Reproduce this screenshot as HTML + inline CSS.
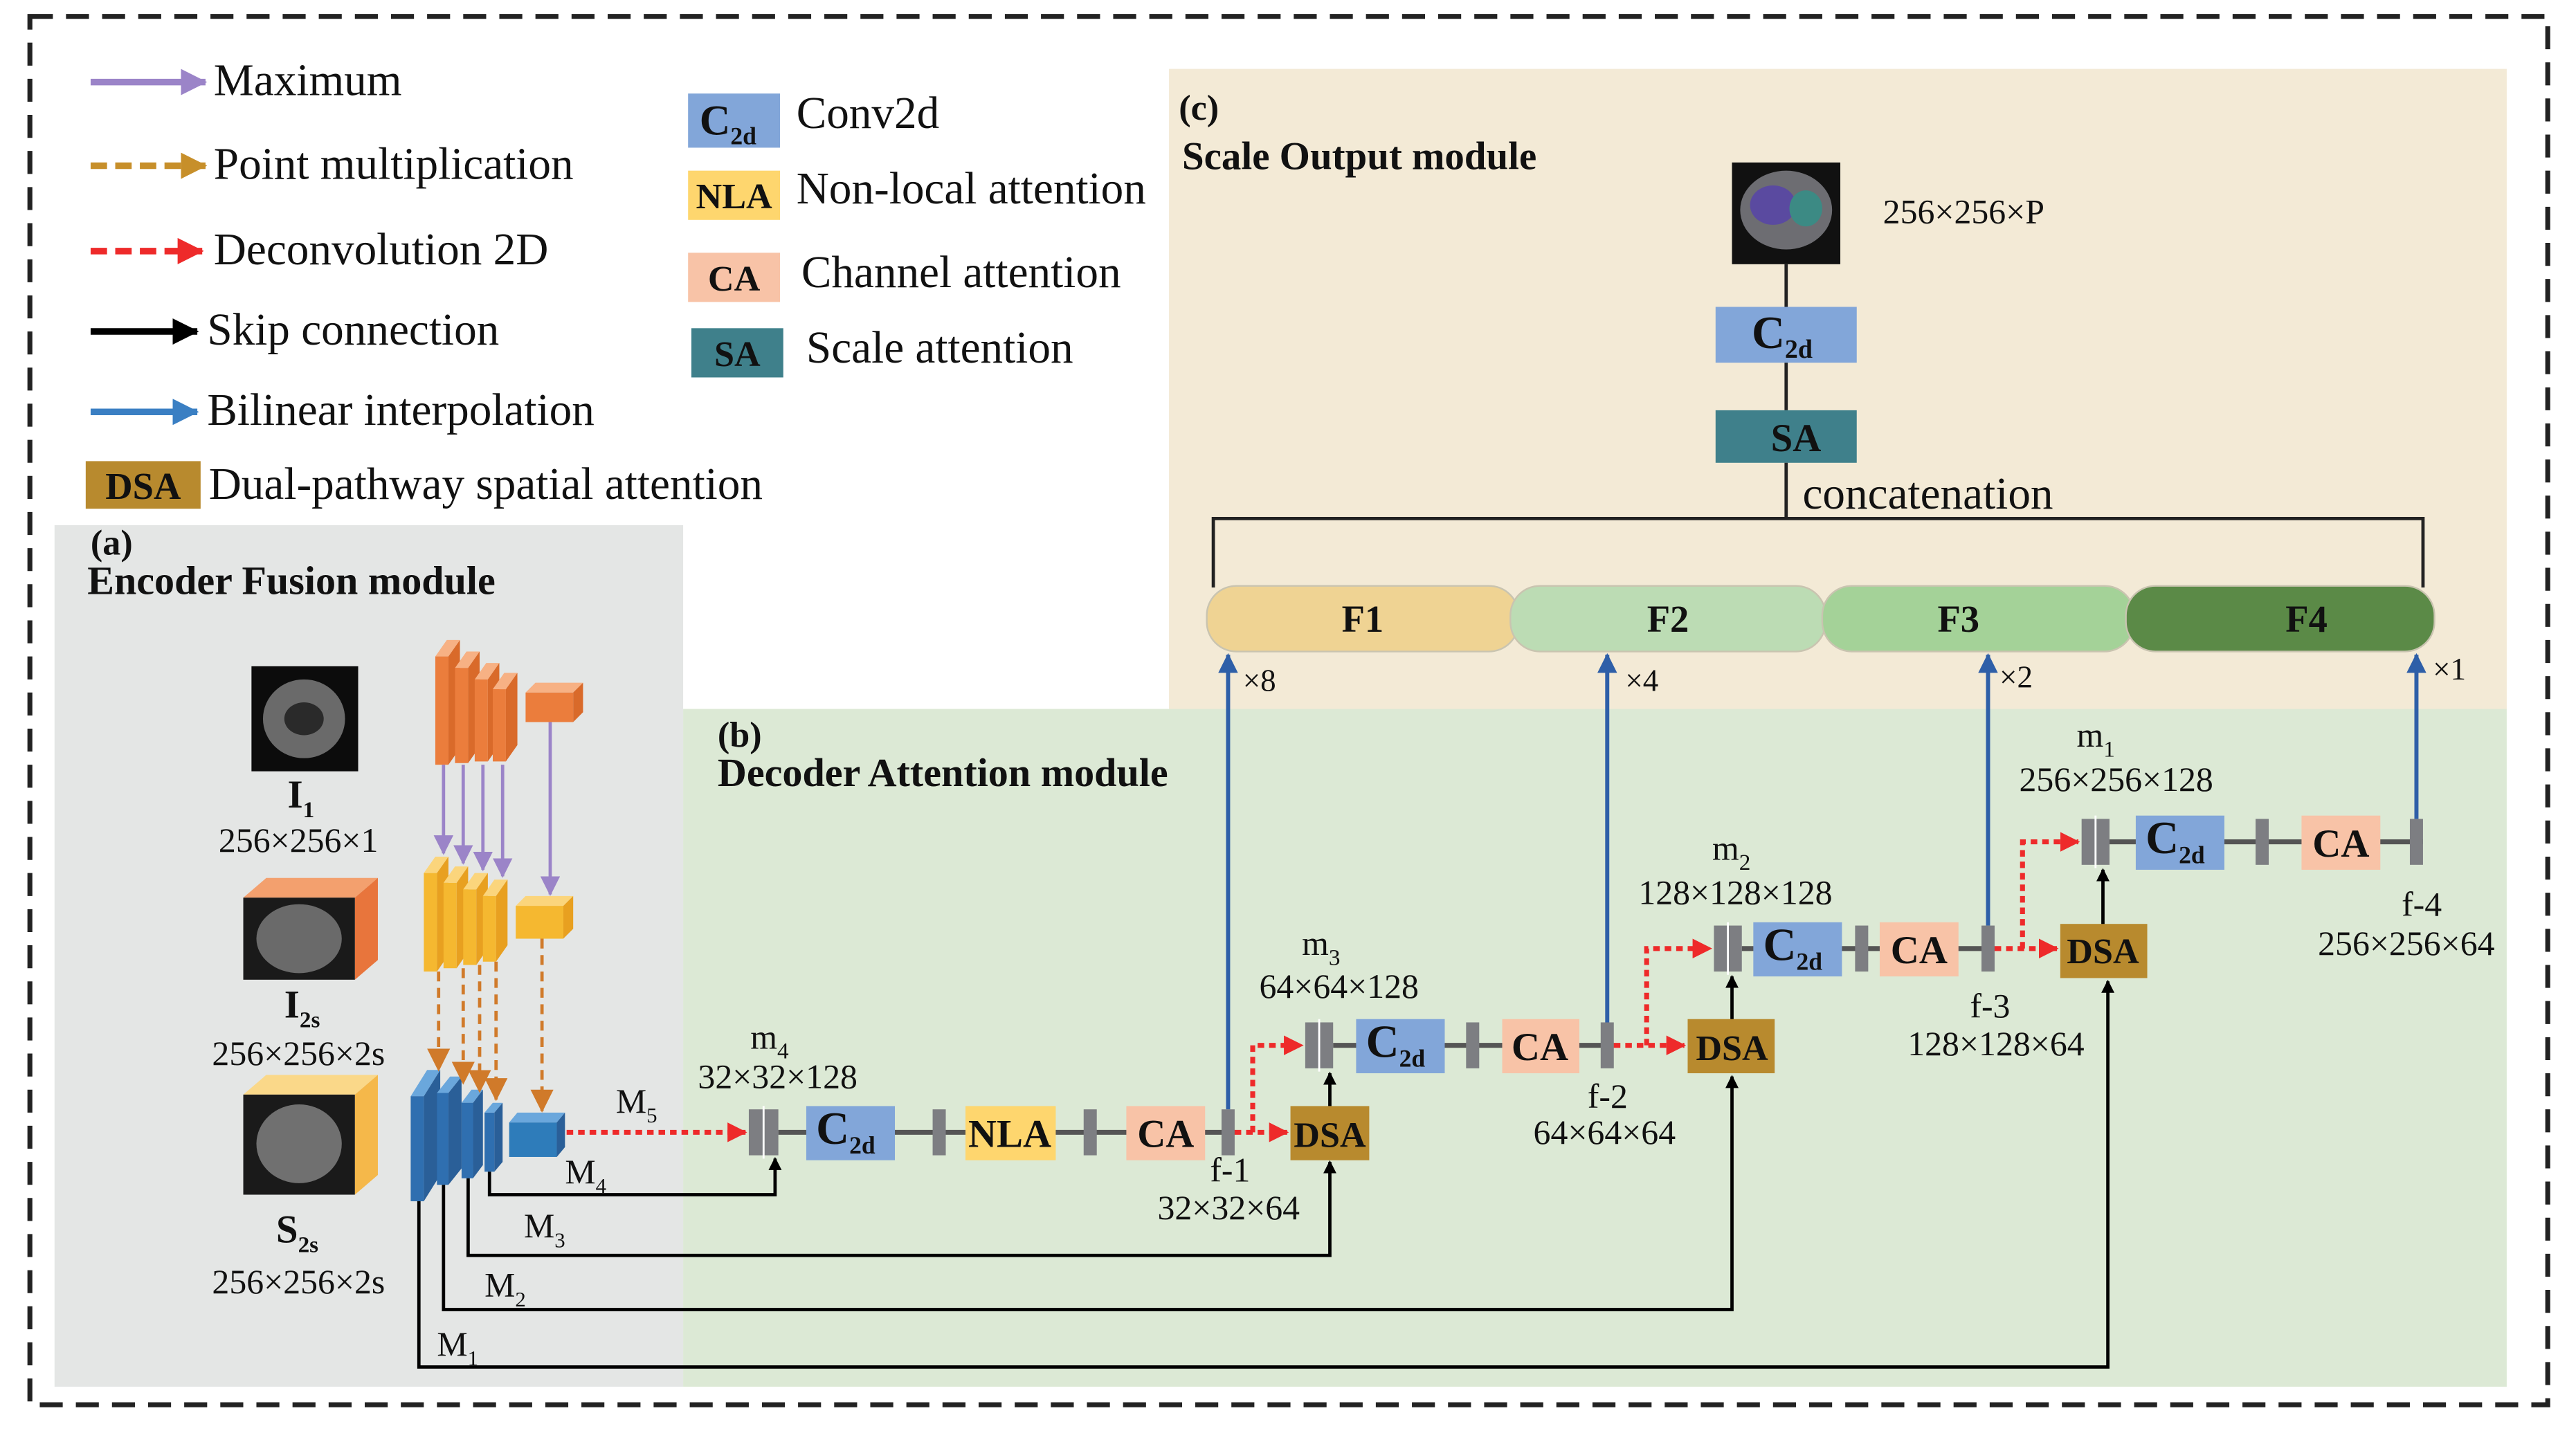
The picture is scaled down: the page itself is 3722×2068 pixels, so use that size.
<!DOCTYPE html>
<html><head><meta charset="utf-8"><style>
html,body{margin:0;padding:0;background:#fff}
svg{display:block}
text{font-family:"Liberation Serif",serif;fill:#111}
.b{font-weight:bold}
</style></head><body>
<svg width="3722" height="2068" viewBox="0 0 1569 872" xmlns="http://www.w3.org/2000/svg">
<defs>
<marker id="ak" markerWidth="8" markerHeight="8" refX="7" refY="4" orient="auto" markerUnits="userSpaceOnUse"><path d="M0,0 L8,4 L0,8 Z" fill="#000"/></marker>
<marker id="ab" markerWidth="12" markerHeight="12" refX="11" refY="6" orient="auto" markerUnits="userSpaceOnUse"><path d="M0,0 L12,6 L0,12 Z" fill="#2e5fa8"/></marker>
<marker id="ar" markerWidth="12" markerHeight="12" refX="11" refY="6" orient="auto" markerUnits="userSpaceOnUse"><path d="M0,0 L12,6 L0,12 Z" fill="#ee2a2a"/></marker>
<marker id="ap" markerWidth="12" markerHeight="12" refX="11" refY="6" orient="auto" markerUnits="userSpaceOnUse"><path d="M0,0 L12,6 L0,12 Z" fill="#9b84c8"/></marker>
<marker id="ao" markerWidth="14" markerHeight="14" refX="13" refY="7" orient="auto" markerUnits="userSpaceOnUse"><path d="M0,0 L14,7 L0,14 Z" fill="#d07a2a"/></marker>
<marker id="alb" markerWidth="16" markerHeight="16" refX="15" refY="8" orient="auto" markerUnits="userSpaceOnUse"><path d="M0,0 L16,8 L0,16 Z" fill="#3a7fc3"/></marker>
<marker id="alk" markerWidth="16" markerHeight="16" refX="15" refY="8" orient="auto" markerUnits="userSpaceOnUse"><path d="M0,0 L16,8 L0,16 Z" fill="#000"/></marker>
<marker id="alp" markerWidth="16" markerHeight="16" refX="15" refY="8" orient="auto" markerUnits="userSpaceOnUse"><path d="M0,0 L16,8 L0,16 Z" fill="#9b84c8"/></marker>
<marker id="alo" markerWidth="16" markerHeight="16" refX="15" refY="8" orient="auto" markerUnits="userSpaceOnUse"><path d="M0,0 L16,8 L0,16 Z" fill="#c78f2a"/></marker>
<marker id="alr" markerWidth="16" markerHeight="16" refX="15" refY="8" orient="auto" markerUnits="userSpaceOnUse"><path d="M0,0 L16,8 L0,16 Z" fill="#ee2a2a"/></marker>
</defs>

<!-- regions -->
<rect x="33" y="320" width="383" height="525" fill="#e4e6e5"/>
<rect x="712" y="42" width="815" height="390" fill="#f3ead6"/>
<rect x="416" y="432" width="1111" height="413" fill="#dce9d5"/>
<rect x="18" y="10" width="1534" height="846" fill="none" stroke="#222" stroke-width="3" stroke-dasharray="14,8"/>

<!-- legend -->
<line x1="55" y1="50" x2="125" y2="50" stroke="#9b84c8" stroke-width="4" marker-end="url(#alp)"/>
<text x="130" y="58" font-size="27.5">Maximum</text>
<line x1="55" y1="101" x2="125" y2="101" stroke="#c78f2a" stroke-width="4" stroke-dasharray="10,5" marker-end="url(#alo)"/>
<text x="130" y="109" font-size="27.5">Point multiplication</text>
<line x1="55" y1="153" x2="123" y2="153" stroke="#ee2a2a" stroke-width="4" stroke-dasharray="10,5" marker-end="url(#alr)"/>
<text x="130" y="161" font-size="27.5">Deconvolution 2D</text>
<line x1="55" y1="202" x2="120" y2="202" stroke="#000" stroke-width="4" marker-end="url(#alk)"/>
<text x="126" y="210" font-size="27.5">Skip connection</text>
<line x1="55" y1="251" x2="120" y2="251" stroke="#3a7fc3" stroke-width="4" marker-end="url(#alb)"/>
<text x="126" y="259" font-size="27.5">Bilinear interpolation</text>
<rect x="52" y="281" width="70" height="29" fill="#b88a2e"/>
<text x="87" y="304" font-size="23" class="b" text-anchor="middle">DSA</text>
<text x="127" y="304" font-size="27.5">Dual-pathway spatial attention</text>

<rect x="419" y="57" width="56" height="33" fill="#82a6d9"/>
<text x="426" y="82" font-size="26" class="b">C<tspan font-size="15" dy="6">2d</tspan></text>
<text x="485" y="78" font-size="27.5">Conv2d</text>
<rect x="419" y="104" width="56" height="30" fill="#fed66e"/>
<text x="447" y="127" font-size="22" class="b" text-anchor="middle">NLA</text>
<text x="485" y="124" font-size="27.5">Non-local attention</text>
<rect x="419" y="154" width="56" height="30" fill="#f8c3a7"/>
<text x="447" y="177" font-size="22" class="b" text-anchor="middle">CA</text>
<text x="488" y="175" font-size="27.5">Channel attention</text>
<rect x="421" y="200" width="56" height="30" fill="#3f808b"/>
<text x="449" y="223" font-size="22" class="b" text-anchor="middle">SA</text>
<text x="491" y="221" font-size="27.5">Scale attention</text>

<!-- (c) -->
<text x="718" y="73" font-size="22" class="b">(c)</text>
<text x="720" y="103" font-size="24" class="b">Scale Output module</text>
<rect x="1055" y="99" width="66" height="62" fill="#111"/>
<ellipse cx="1088" cy="128" rx="28" ry="24" fill="#6d6d72"/>
<ellipse cx="1080" cy="125" rx="14" ry="12" fill="#5a4aa0"/>
<ellipse cx="1100" cy="127" rx="10" ry="11" fill="#3c8a84"/>
<text x="1147" y="136" font-size="21">256×256×P</text>
<line x1="1088" y1="161" x2="1088" y2="187" stroke="#222" stroke-width="2"/>
<rect x="1045" y="187" width="86" height="34" fill="#82a6d9"/>
<text x="1067" y="212" font-size="28" class="b">C<tspan font-size="16" dy="6">2d</tspan></text>
<line x1="1088" y1="221" x2="1088" y2="250" stroke="#222" stroke-width="2"/>
<rect x="1045" y="250" width="86" height="32" fill="#3f808b"/>
<text x="1094" y="275" font-size="24" class="b" text-anchor="middle">SA</text>
<polyline points="739,358 739,316 1476,316 1476,358" fill="none" stroke="#222" stroke-width="2"/>
<line x1="1088" y1="282" x2="1088" y2="316" stroke="#222" stroke-width="2"/>
<text x="1098" y="310" font-size="27.5">concatenation</text>
<rect x="735" y="357" width="190" height="40" rx="18" fill="#efd393" stroke="#c9c4b0"/>
<rect x="920" y="357" width="192" height="40" rx="18" fill="#bcdcb4" stroke="#c9c4b0"/>
<rect x="1110" y="357" width="190" height="40" rx="18" fill="#a4d298" stroke="#c9c4b0"/>
<rect x="1295" y="357" width="188" height="40" rx="18" fill="#5b8a47" stroke="#c9c4b0"/>
<text x="830" y="385" font-size="23" class="b" text-anchor="middle">F1</text>
<text x="1016" y="385" font-size="23" class="b" text-anchor="middle">F2</text>
<text x="1193" y="385" font-size="23" class="b" text-anchor="middle">F3</text>
<text x="1405" y="385" font-size="23" class="b" text-anchor="middle">F4</text>

<!-- (b) -->
<text x="437" y="455" font-size="22" class="b">(b)</text>
<text x="437" y="479" font-size="24.5" class="b">Decoder Attention module</text>

<!-- row lines -->
<g stroke="#555" stroke-width="3">
<line x1="474" y1="690" x2="752" y2="690"/>
<line x1="812" y1="637" x2="983" y2="637"/>
<line x1="1061" y1="578" x2="1215" y2="578"/>
<line x1="1285" y1="513" x2="1476" y2="513"/>
</g>
<g fill="#7d7e82">
<rect x="456" y="676" width="18" height="28"/><rect x="568" y="676" width="8" height="28"/><rect x="660" y="676" width="8" height="28"/><rect x="744" y="676" width="8" height="28"/>
<rect x="795" y="623" width="17" height="28"/><rect x="893" y="623" width="8" height="28"/><rect x="975" y="623" width="8" height="28"/>
<rect x="1044" y="564" width="17" height="28"/><rect x="1130" y="564" width="8" height="28"/><rect x="1207" y="564" width="8" height="28"/>
<rect x="1268" y="499" width="17" height="28"/><rect x="1374" y="499" width="8" height="28"/><rect x="1468" y="499" width="8" height="28"/>
</g>
<g stroke="#fff" stroke-width="1.2">
<line x1="465" y1="674" x2="465" y2="706"/><line x1="803.5" y1="621" x2="803.5" y2="653"/><line x1="1052.5" y1="562" x2="1052.5" y2="594"/><line x1="1276.5" y1="497" x2="1276.5" y2="529"/>
</g>
<!-- boxes -->
<rect x="491" y="674" width="54" height="33" fill="#82a6d9"/><text x="497" y="697" font-size="28" class="b">C<tspan font-size="15" dy="6">2d</tspan></text>
<rect x="588" y="674" width="55" height="33" fill="#fed66e"/><text x="615" y="699" font-size="24" class="b" text-anchor="middle">NLA</text>
<rect x="686" y="674" width="48" height="33" fill="#f8c3a7"/><text x="710" y="699" font-size="24" class="b" text-anchor="middle">CA</text>
<rect x="786" y="674" width="48" height="33" fill="#b88a2e"/><text x="810" y="699" font-size="22" class="b" text-anchor="middle">DSA</text>

<rect x="826" y="621" width="54" height="33" fill="#82a6d9"/><text x="832" y="644" font-size="28" class="b">C<tspan font-size="15" dy="6">2d</tspan></text>
<rect x="915" y="621" width="47" height="33" fill="#f8c3a7"/><text x="938" y="646" font-size="24" class="b" text-anchor="middle">CA</text>
<rect x="1028" y="621" width="53" height="33" fill="#b88a2e"/><text x="1055" y="646" font-size="22" class="b" text-anchor="middle">DSA</text>

<rect x="1068" y="562" width="54" height="33" fill="#82a6d9"/><text x="1074" y="585" font-size="28" class="b">C<tspan font-size="15" dy="6">2d</tspan></text>
<rect x="1145" y="562" width="48" height="33" fill="#f8c3a7"/><text x="1169" y="587" font-size="24" class="b" text-anchor="middle">CA</text>
<rect x="1255" y="563" width="53" height="33" fill="#b88a2e"/><text x="1281" y="587" font-size="22" class="b" text-anchor="middle">DSA</text>

<rect x="1301" y="497" width="54" height="33" fill="#82a6d9"/><text x="1307" y="520" font-size="28" class="b">C<tspan font-size="15" dy="6">2d</tspan></text>
<rect x="1402" y="497" width="48" height="33" fill="#f8c3a7"/><text x="1426" y="522" font-size="24" class="b" text-anchor="middle">CA</text>

<!-- red dotted -->
<g fill="none" stroke="#ee2a2a" stroke-width="3" stroke-dasharray="4,3">
<line x1="345" y1="690" x2="454" y2="690" marker-end="url(#ar)"/>
<line x1="752" y1="690" x2="784" y2="690" marker-end="url(#ar)"/>
<polyline points="763,690 763,637 793,637" marker-end="url(#ar)"/>
<line x1="983" y1="637" x2="1026" y2="637" marker-end="url(#ar)"/>
<polyline points="1003,637 1003,578 1042,578" marker-end="url(#ar)"/>
<line x1="1215" y1="578" x2="1253" y2="578" marker-end="url(#ar)"/>
<polyline points="1232,578 1232,513 1266,513" marker-end="url(#ar)"/>
</g>
<!-- DSA up arrows -->
<g stroke="#000" stroke-width="2" fill="none">
<line x1="810" y1="674" x2="810" y2="654" marker-end="url(#ak)"/>
<line x1="1055" y1="621" x2="1055" y2="595" marker-end="url(#ak)"/>
<line x1="1281" y1="563" x2="1281" y2="530" marker-end="url(#ak)"/>
</g>
<!-- blue arrows -->
<g stroke="#2e5fa8" stroke-width="2.5">
<line x1="748" y1="676" x2="748" y2="399" marker-end="url(#ab)"/>
<line x1="979" y1="623" x2="979" y2="399" marker-end="url(#ab)"/>
<line x1="1211" y1="564" x2="1211" y2="399" marker-end="url(#ab)"/>
<line x1="1472" y1="499" x2="1472" y2="399" marker-end="url(#ab)"/>
</g>
<text x="757" y="421" font-size="19">×8</text>
<text x="990" y="421" font-size="19">×4</text>
<text x="1218" y="419" font-size="19">×2</text>
<text x="1482" y="414" font-size="19">×1</text>

<!-- labels -->
<g font-size="21">
<text x="457" y="639">m<tspan font-size="14" dy="6">4</tspan></text>
<text x="425" y="663">32×32×128</text>
<text x="737" y="720">f-1</text>
<text x="705" y="743">32×32×64</text>
<text x="793" y="582">m<tspan font-size="14" dy="6">3</tspan></text>
<text x="767" y="608">64×64×128</text>
<text x="967" y="675">f-2</text>
<text x="934" y="697">64×64×64</text>
<text x="1043" y="524">m<tspan font-size="14" dy="6">2</tspan></text>
<text x="998" y="551">128×128×128</text>
<text x="1200" y="620">f-3</text>
<text x="1162" y="643">128×128×64</text>
<text x="1265" y="455">m<tspan font-size="14" dy="6">1</tspan></text>
<text x="1230" y="482">256×256×128</text>
<text x="1463" y="558">f-4</text>
<text x="1412" y="582">256×256×64</text>
</g>

<!-- (a) -->
<text x="55" y="338" font-size="22" class="b">(a)</text>
<text x="53" y="362" font-size="24.5" class="b">Encoder Fusion module</text>
<rect x="153" y="406" width="65" height="64" fill="#0c0c0c"/>
<ellipse cx="185" cy="438" rx="25" ry="24" fill="#6a6a6a"/>
<ellipse cx="185" cy="438" rx="12" ry="10" fill="#2a2a2a"/>
<text x="175" y="492" font-size="24" class="b">I<tspan font-size="14" dy="6">1</tspan></text>
<text x="133" y="519" font-size="21">256×256×1</text>
<polygon points="148,547 162,535 230,535 216,547" fill="#f3a06e"/>
<polygon points="216,547 230,535 230,585 216,597" fill="#e8753c"/>
<rect x="148" y="547" width="68" height="50" fill="#1a1a1a"/>
<ellipse cx="182" cy="572" rx="26" ry="21" fill="#6a6a6a"/>
<text x="173" y="620" font-size="24" class="b">I<tspan font-size="14" dy="6">2s</tspan></text>
<text x="129" y="649" font-size="21">256×256×2s</text>
<polygon points="148,667 162,655 230,655 216,667" fill="#fad889"/>
<polygon points="216,667 230,655 230,716 216,728" fill="#f5b84a"/>
<rect x="148" y="667" width="68" height="61" fill="#1a1a1a"/>
<ellipse cx="182" cy="697" rx="26" ry="24" fill="#707070"/>
<text x="168" y="757" font-size="24" class="b">S<tspan font-size="14" dy="6">2s</tspan></text>
<text x="129" y="788" font-size="21">256×256×2s</text>

<!-- orange blocks -->
<g>
<polygon points="265,400 272,390 280,390 273,400" fill="#f7b184"/><rect x="265" y="400" width="8" height="66" fill="#eb7d3c"/><polygon points="273,400 280,390 280,456 273,466" fill="#d96a2a"/>
<polygon points="277,407 284,397 292,397 285,407" fill="#f7b184"/><rect x="277" y="407" width="8" height="58" fill="#eb7d3c"/><polygon points="285,407 292,397 292,455 285,465" fill="#d96a2a"/>
<polygon points="289,414 296,404 304,404 297,414" fill="#f7b184"/><rect x="289" y="414" width="8" height="50" fill="#eb7d3c"/><polygon points="297,414 304,404 304,454 297,464" fill="#d96a2a"/>
<polygon points="300,420 307,410 315,410 308,420" fill="#f7b184"/><rect x="300" y="420" width="8" height="44" fill="#eb7d3c"/><polygon points="308,420 315,410 315,454 308,464" fill="#d96a2a"/>
<polygon points="320,422 326,416 355,416 349,422" fill="#f7b184"/><rect x="320" y="422" width="29" height="18" fill="#eb7d3c"/><polygon points="349,422 355,416 355,434 349,440" fill="#d96a2a"/>
</g>
<g fill="#f5b830">
<polygon points="258,532 265,522 273,522 266,532" fill="#fbd57c"/><rect x="258" y="532" width="8" height="60"/><polygon points="266,532 273,522 273,582 266,592" fill="#e8a020"/>
<polygon points="270,538 277,528 285,528 278,538" fill="#fbd57c"/><rect x="270" y="538" width="8" height="52"/><polygon points="278,538 285,528 285,580 278,590" fill="#e8a020"/>
<polygon points="282,542 289,532 297,532 290,542" fill="#fbd57c"/><rect x="282" y="542" width="8" height="46"/><polygon points="290,542 297,532 297,578 290,588" fill="#e8a020"/>
<polygon points="294,546 301,536 309,536 302,546" fill="#fbd57c"/><rect x="294" y="546" width="8" height="40"/><polygon points="302,546 309,536 309,576 302,586" fill="#e8a020"/>
<polygon points="314,552 320,546 349,546 343,552" fill="#fbd57c"/><rect x="314" y="552" width="29" height="20"/><polygon points="343,552 349,546 349,566 343,572" fill="#e8a020"/>
</g>
<g fill="#2f6fb0">
<polygon points="250,668 260,652 268,652 258,668" fill="#6aa7dc"/><rect x="250" y="668" width="8" height="64"/><polygon points="258,668 268,652 268,716 258,732" fill="#2a5f98"/>
<polygon points="266,666 274,656 281,656 273,666" fill="#6aa7dc"/><rect x="266" y="666" width="7" height="56"/><polygon points="273,666 281,656 281,712 273,722" fill="#2a5f98"/>
<polygon points="281,672 287,664 294,664 288,672" fill="#6aa7dc"/><rect x="281" y="672" width="7" height="46"/><polygon points="288,672 294,664 294,710 288,718" fill="#2a5f98"/>
<polygon points="295,678 300,672 306,672 301,678" fill="#6aa7dc"/><rect x="295" y="678" width="6" height="36"/><polygon points="301,678 306,672 306,708 301,714" fill="#2a5f98"/>
<polygon points="310,684 315,678 344,678 339,684" fill="#6aa7dc"/><rect x="310" y="684" width="29" height="21" fill="#2e7cba"/><polygon points="339,684 344,678 344,699 339,705" fill="#2a5f98"/>
</g>
<!-- purple arrows -->
<g stroke="#9b84c8" stroke-width="2">
<line x1="270" y1="466" x2="270" y2="520" marker-end="url(#ap)"/>
<line x1="282" y1="466" x2="282" y2="526" marker-end="url(#ap)"/>
<line x1="294" y1="466" x2="294" y2="530" marker-end="url(#ap)"/>
<line x1="306" y1="466" x2="306" y2="534" marker-end="url(#ap)"/>
<line x1="335" y1="440" x2="335" y2="545" marker-end="url(#ap)"/>
</g>
<g stroke="#d07a2a" stroke-width="2" stroke-dasharray="6,4">
<line x1="267" y1="592" x2="267" y2="652" marker-end="url(#ao)"/>
<line x1="282" y1="590" x2="282" y2="660" marker-end="url(#ao)"/>
<line x1="292" y1="588" x2="292" y2="665" marker-end="url(#ao)"/>
<line x1="302" y1="586" x2="302" y2="670" marker-end="url(#ao)"/>
<line x1="330" y1="572" x2="330" y2="677" marker-end="url(#ao)"/>
</g>
<!-- skip connections -->
<g stroke="#000" stroke-width="2" fill="none">
<polyline points="298,714 298,728 472,728 472,706" marker-end="url(#ak)"/>
<polyline points="285,718 285,765 810,765 810,708" marker-end="url(#ak)"/>
<polyline points="270,722 270,798 1055,798 1055,656" marker-end="url(#ak)"/>
<polyline points="255,732 255,833 1284,833 1284,598" marker-end="url(#ak)"/>
</g>
<g font-size="21">
<text x="375" y="678">M<tspan font-size="13" dy="6">5</tspan></text>
<text x="344" y="721">M<tspan font-size="13" dy="6">4</tspan></text>
<text x="319" y="754">M<tspan font-size="13" dy="6">3</tspan></text>
<text x="295" y="790">M<tspan font-size="13" dy="6">2</tspan></text>
<text x="266" y="826">M<tspan font-size="13" dy="6">1</tspan></text>
</g>
</svg>
</body></html>
